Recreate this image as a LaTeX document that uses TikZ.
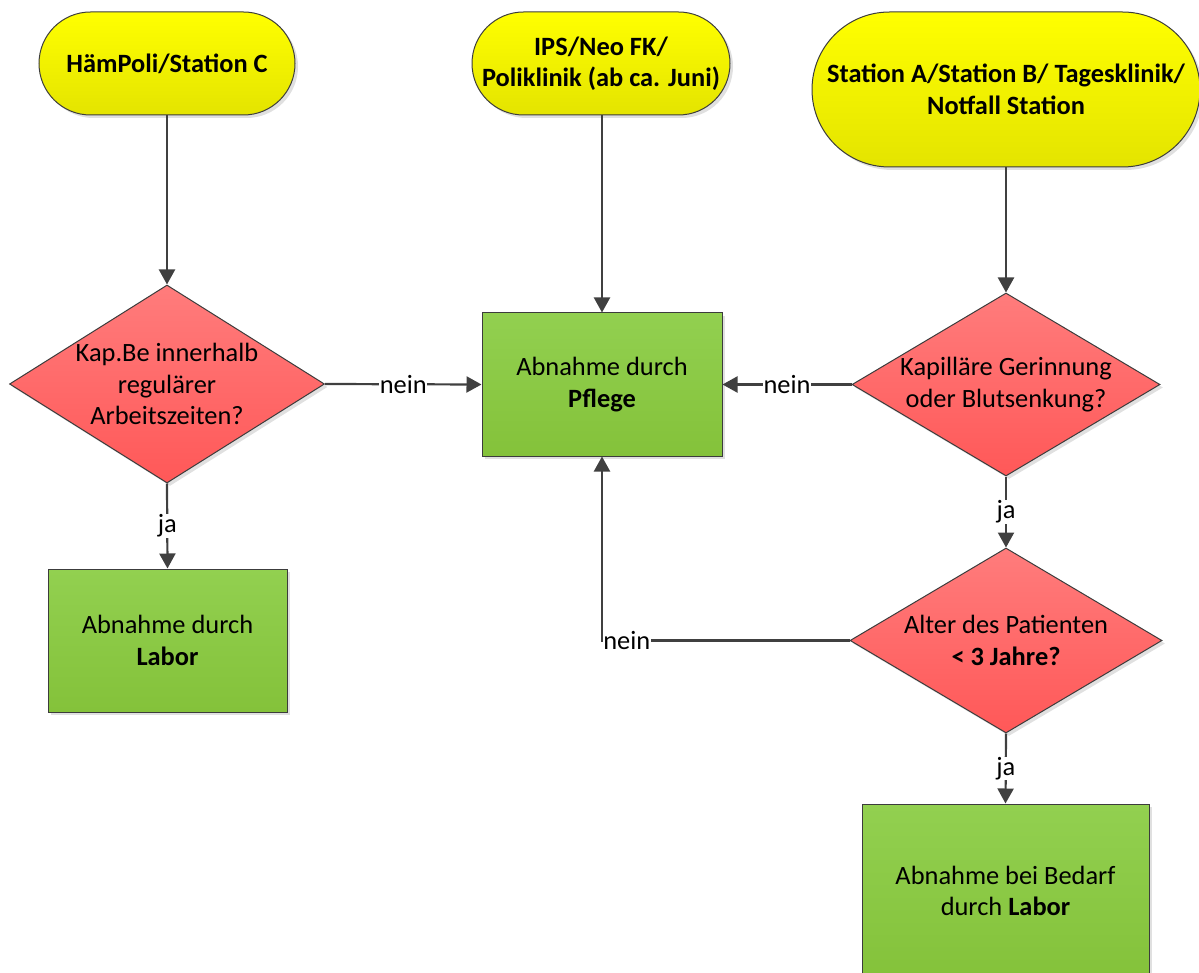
\documentclass[tikz,border=0pt]{standalone}
\usepackage{fontspec}
\setmainfont{Carlito}
\usetikzlibrary{arrows.meta,shapes.geometric,shadows}
\definecolor{edgec}{HTML}{404040}
\definecolor{bordc}{HTML}{3C3C3C}
\definecolor{yelT}{HTML}{FFFF00}
\definecolor{yelB}{HTML}{E4E400}
\definecolor{redT}{HTML}{FF7C7C}
\definecolor{redB}{HTML}{FF5858}
\definecolor{grnT}{HTML}{92D050}
\definecolor{grnB}{HTML}{84C23A}
\begin{document}
\begin{tikzpicture}[x=1pt,y=-1pt,
  txt/.style={font=\fontsize{26.4}{31.5}\selectfont, align=center},
  base/.style={draw=bordc, line width=1pt, inner sep=2pt, txt,
    drop shadow={shadow xshift=3pt,shadow yshift=-3pt,opacity=0.35,fill=black!35}},
  term/.style={base, rectangle, top color=yelT, bottom color=yelB, font=\fontsize{26.4}{31.5}\selectfont\bfseries},
  proc/.style={base, rectangle, top color=grnT, bottom color=grnB},
  deci/.style={base, diamond, inner sep=0pt, top color=redT, bottom color=redB},
  conn/.style={draw=edgec, line width=2.2pt, -{Triangle[length=15pt,width=16pt]}},
  elabel/.style={txt, fill=white, inner sep=0.5pt}
]
\clip (0,0) rectangle (1199,973);
% terminals
\node[term, minimum width=256pt, minimum height=103pt, rounded corners=51.5pt] (t1) at (167,63.5) {HämPoli/Station C};
\node[term, minimum width=258pt, minimum height=103pt, rounded corners=51.5pt] (t2) at (601,63.5) {IPS/Neo FK/\\Poliklinik (ab ca. Juni)};
\node[term, minimum width=388pt, minimum height=155pt, rounded corners=77.5pt] (t3) at (1006,89.5) {Station A/Station B/ Tagesklinik/\\Notfall Station};
% decisions
\node[deci, minimum width=315pt, minimum height=198pt] (d1) at (167,384) {};
\node[txt] (d1t) at (d1) {Kap.Be innerhalb\\regulärer\\Arbeitszeiten?};
\node[deci, minimum width=308pt, minimum height=183pt] (d2) at (1006,384.5) {};
\node[txt] (d2t) at (d2) {Kapilläre Gerinnung\\oder Blutsenkung?};
\node[deci, minimum width=312pt, minimum height=185pt] (d3) at (1006,640.5) {};
\node[txt] (d3t) at (d3) {Alter des Patienten\\\textbf{< 3 Jahre?}};
% processes
\node[proc, minimum width=240pt, minimum height=143pt] (pf) at (602,384.5) {Abnahme durch\\\textbf{Pflege}};
\node[proc, minimum width=239pt, minimum height=143pt] (lb) at (167.5,640.5) {Abnahme durch\\\textbf{Labor}};
\node[proc, minimum width=287pt, minimum height=174pt] (lb2) at (1005.5,891) {Abnahme bei Bedarf\\durch \textbf{Labor}};
% connectors
\draw[conn] (t1.south) -- (d1.north);
\draw[conn] (t2.south -| pf.north) -- (pf.north);
\draw[conn] (t3.south) -- (d2.north);
\draw[conn] (d1.east) -- node[elabel]{nein} (pf.west);
\draw[conn] (d2.west) -- node[elabel]{nein} (pf.east);
\draw[conn] (d1.south) -- node[elabel]{ja} (lb.north);
\draw[conn] (d2.south) -- node[elabel]{ja} (d3.north);
\draw[conn] (d3.south) -- node[elabel]{ja} (lb2.north);
\draw[conn] (d3.west) -| node[elabel, pos=0.45]{nein} (pf.south);
\end{tikzpicture}
\end{document}
